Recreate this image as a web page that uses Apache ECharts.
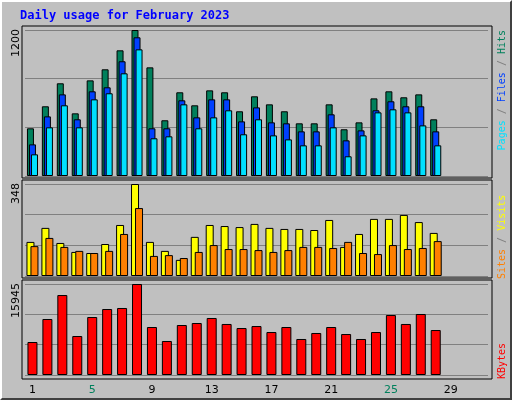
<!DOCTYPE html>
<html><head><meta charset="utf-8">
<script src="https://cdn.jsdelivr.net/npm/echarts@6/dist/echarts.min.js"></script>
<style>
html,body{margin:0;padding:0;background:#c0c0c0;}
#main{width:512px;height:400px;box-sizing:border-box;border:2px solid;border-color:#fff #404040 #404040 #fff;}
</style></head>
<body><div id="main"></div>
<script>
var days = [];
for (var i = 1; i <= 31; i++) days.push(String(i));
var weekend = ['4','5','11','12','18','19','25','26'];
var hits   = [392,573,762,515,786,877,1033,1200,893,458,688,581,704,688,532,655,589,532,433,433,589,384,441,638,696,647,671,466];
var files  = [260,490,671,466,696,729,943,1140,392,392,622,482,630,630,449,564,441,433,367,367,507,293,375,540,614,573,573,367];
var pages  = [178,400,581,400,630,680,844,1041,310,326,589,392,482,540,343,466,334,301,252,252,400,162,334,523,548,523,416,252];
var visits = [129,182,125,91,87,121,193,348,129,95,61,148,193,189,185,197,182,178,178,174,212,110,159,216,216,231,204,163];
var sites  = [113,144,110,95,87,95,159,257,76,79,68,91,117,102,102,98,91,98,110,110,106,129,87,83,117,102,106,132];
var kbytes = [5780,9810,14010,6830,10160,11560,11740,15945,8410,5960,8760,9110,9990,8940,8230,8580,7530,8410,6310,7360,8410,7180,6310,7530,10510,8940,10690,7880];
var yMax = [1200, 348, 15945];

var chart = echarts.init(document.getElementById('main'));
var grids = [
  {left: 23, width: 463, top: 28, height: 146},
  {left: 23, width: 463, top: 182, height: 92},
  {left: 23, width: 463, top: 282, height: 91}
];
var xAxes = [], yAxes = [];
grids.forEach(function (g, k) {
  xAxes.push({
    type: 'category', data: days, gridIndex: k,
    axisLine: {show: false}, axisTick: {show: false},
    axisLabel: {
      show: k == 2, margin: 10, fontSize: 11, fontFamily: 'DejaVu Sans',
      formatter: function (v) { return weekend.indexOf(v) >= 0 ? '{w|' + v + '}' : '{n|' + v + '}'; },
      rich: {w: {color: '#00805c', fontSize: 11}, n: {color: '#000', fontSize: 11}}
    }
  });
  yAxes.push({
    type: 'value', gridIndex: k, min: 0, max: yMax[k], interval: yMax[k] / 3,
    axisLabel: {show: false}, axisLine: {show: false}, axisTick: {show: false},
    splitLine: {show: true, lineStyle: {color: '#808080', width: 1}}
  });
});

function bar(name, data, color, idx, width, gap) {
  return {
    name: name, type: 'bar', data: data, xAxisIndex: idx, yAxisIndex: idx,
    barWidth: width, barGap: gap, animation: false,
    itemStyle: {color: color, borderColor: '#000', borderWidth: 1}
  };
}

function panel(y, h) {
  return {type: 'rect', shape: {x: 20, y: y, width: 470, height: h}, z: -1,
    style: {fill: '#c0c0c0', stroke: '#000', lineWidth: 1}};
}
function maxLabel(v, y) {
  return {type: 'text', x: 14, y: y, rotation: Math.PI / 2,
    style: {text: String(v), fill: '#000', font: '11px DejaVu Sans', align: 'right', verticalAlign: 'middle'}};
}
function sideLabel(text, rich, y, align) {
  return {type: 'text', x: 500, y: y, rotation: Math.PI / 2,
    style: {text: text, rich: rich, font: '10px DejaVu Sans Mono', align: align, verticalAlign: 'middle', fill: '#808080'}};
}

chart.setOption({
  backgroundColor: '#c0c0c0',
  animation: false,
  grid: grids,
  xAxis: xAxes,
  yAxis: yAxes,
  series: [
    bar('Hits', hits, '#00805c', 0, 7, '-71%'),
    bar('Files', files, '#0040ff', 0, 7, '-71%'),
    bar('Pages', pages, '#00e0ff', 0, 7, '-71%'),
    bar('Visits', visits, '#ffff00', 1, 8, '-50%'),
    bar('Sites', sites, '#ff8000', 1, 8, '-50%'),
    bar('KBytes', kbytes, '#ff0000', 2, 10, '0%')
  ],
  graphic: [
    {type: 'text', x: 18, y: 14, style: {text: 'Daily usage for February 2023', fill: '#0000ff',
      font: 'bold 12px DejaVu Sans Mono', verticalAlign: 'middle'}},
    panel(24, 152), panel(178, 98), panel(278, 99),
    maxLabel(yMax[0], 27), maxLabel(yMax[1], 181), maxLabel(yMax[2], 281),
    sideLabel('{p|Pages} / {f|Files} / {h|Hits}', {
      p: {fill: '#00e0ff', font: '10px DejaVu Sans Mono'},
      f: {fill: '#0040ff', font: '10px DejaVu Sans Mono'},
      h: {fill: '#00805c', font: '10px DejaVu Sans Mono'}}, 28, 'right'),
    sideLabel('{s|Sites} / {v|Visits}', {
      s: {fill: '#ff8000', font: '10px DejaVu Sans Mono'},
      v: {fill: '#ffff00', font: '10px DejaVu Sans Mono'}}, 277, 'left'),
    sideLabel('{k|KBytes}', {k: {fill: '#ff0000', font: '10px DejaVu Sans Mono'}}, 377, 'left')
  ]
});
</script>
</body></html>
